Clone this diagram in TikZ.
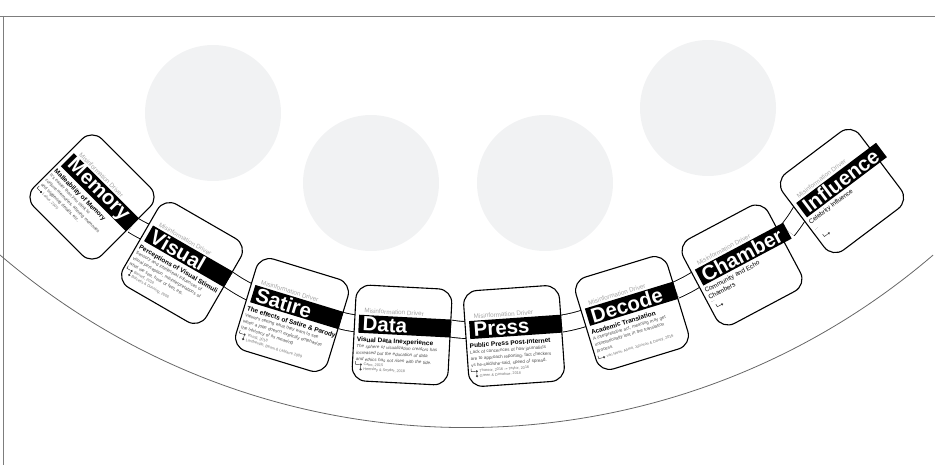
\documentclass[tikz,border=0pt]{standalone}
\usepackage{fontspec}
\setmainfont{Liberation Sans}
\usetikzlibrary{positioning}
\definecolor{blobgray}{RGB}{241,242,243}
\definecolor{framegray}{RGB}{125,125,125}
\pgfdeclarelayer{background}
\pgfsetlayers{background,main}

\begin{document}
\begin{tikzpicture}[x=1pt,y=1pt,
    card/.style={draw,fill=white,rounded corners=14pt,minimum size=96pt,line width=1.1pt},
    bar/.style={fill=black,text=white,font=\bfseries\fontsize{20.5}{20.5}\selectfont,minimum height=18pt,text width=84pt,inner xsep=4pt,inner ysep=0pt,anchor=west},
    driver/.style={text=black!35,font=\fontsize{6.3}{7}\selectfont,anchor=base west,inner sep=0pt},
    subtitle/.style={font=\bfseries\fontsize{6.5}{7.5}\selectfont,anchor=base west,inner sep=0pt},
    subplain/.style={font=\fontsize{6.4}{7.8}\selectfont,align=left,anchor=north west,inner sep=0pt},
    body/.style={text=black!70,font=\fontsize{4.5}{6.5}\selectfont,text width=92pt,align=left,anchor=north west,inner sep=0pt},
    cite/.style={text=black!55,font=\fontsize{3.8}{4.4}\selectfont,anchor=west,inner sep=0pt},
    dot/.style={circle,fill=black!75,inner sep=0pt,minimum size=2.5pt},
    twig/.style={black!75,line width=0.5pt},
    band/.style={double=white,double distance=16pt,line width=0.9pt}]
\useasboundingbox (0,0) rectangle (935,-465);

\begin{scope}[shift={(92,-197)},rotate=-45,transform shape]
  \node[card] (memory) at (0,0) {};
  \node[driver] (memorydriver) at (-39,20) {Misinformation Driver};
  \node[bar] (memorybar) at (-44,9) {Memory};
  \node[subtitle] (memorysub) at (-45,-9) {Malleability of Memory};
  \node[body] (memorybody) at (-45,-11.5) {It's easier than you think to\\conjure memories, altering memories\\and triggering details, etc.};
  \node[cite,below right=1.6pt and 8pt of memorybody.south west] (memorycite1) {Loftus, 2005};
  \node[dot,left=1.2pt of memorycite1] (memorydot1) {};
  \draw[twig] (memorydot1.west) -- ++(-4,0) -- ++(0,3);
\end{scope}

\begin{scope}[shift={(182,-263)},rotate=-30,transform shape]
  \node[card] (visual) at (0,0) {};
  \node[driver] (visualdriver) at (-39,20) {Misinformation Driver};
  \node[bar] (visualbar) at (-44,9) {Visual};
  \node[subtitle] (visualsub) at (-45,-9) {Perceptions of Visual Stimuli};
  \node[body] (visualbody) at (-45,-11.5) {Sensory and intellectual influences of\\visual perception, misinterpretations of\\what we see, hear or feel, etc.};
  \node[cite,below right=1.6pt and 8pt of visualbody.south west] (visualcite1) {Barnett, 2018};
  \node[cite,below right=1pt and 0pt of visualcite1.south west] (visualcite2) {Balcetis \& Dunning, 2006};
  \node[dot,left=1.2pt of visualcite1] (visualdot1) {};
  \node[dot,left=1.2pt of visualcite2] (visualdot2) {};
  \draw[twig] (visualdot1) -- (visualdot2);
  \draw[twig] (visualdot1.west) -- ++(-4,0) -- ++(0,3);
\end{scope}

\begin{scope}[shift={(292,-315)},rotate=-17,transform shape]
  \node[card] (satire) at (0,0) {};
  \node[driver] (satiredriver) at (-39,20) {Misinformation Driver};
  \node[bar] (satirebar) at (-44,9) {Satire};
  \node[subtitle] (satiresub) at (-45,-9) {The effects of Satire \& Parody};
  \node[body] (satirebody) at (-45,-11.5) {Viewers seeing what they want to see\\when a joke doesn't explicitly emphasize\\the intricacy of its meaning};
  \node[cite,below right=1.6pt and 8pt of satirebody.south west] (satirecite1) {Young, 2018};
  \node[cite,below right=1pt and 0pt of satirecite1.south west] (satirecite2) {Landreville, Beam \& LaMarre 2009};
  \node[dot,left=1.2pt of satirecite1] (satiredot1) {};
  \node[dot,left=1.2pt of satirecite2] (satiredot2) {};
  \draw[twig] (satiredot1) -- (satiredot2);
  \draw[twig] (satiredot1.west) -- ++(-4,0) -- ++(0,3);
\end{scope}

\begin{scope}[shift={(402,-335)},rotate=-3,transform shape]
  \node[card] (data) at (0,0) {};
  \node[driver] (datadriver) at (-39,20) {Misinformation Driver};
  \node[bar] (databar) at (-44,9) {Data};
  \node[subtitle] (datasub) at (-45,-9) {Visual Data Inexperience};
  \node[body] (databody) at (-45,-11.5) {\itshape The sphere of visualization creators has\\increased but the education of data\\and ethics has not risen with the tide.};
  \node[cite,below right=1.6pt and 8pt of databody.south west] (datacite1) {Cairo, 2015};
  \node[cite,below right=1pt and 0pt of datacite1.south west] (datacite2) {Hemsley \& Snyder, 2018};
  \node[dot,left=1.2pt of datacite1] (datadot1) {};
  \node[dot,left=1.2pt of datacite2] (datadot2) {};
  \draw[twig] (datadot1) -- (datadot2);
  \draw[twig] (datadot1.west) -- ++(-4,0) -- ++(0,3);
\end{scope}

\begin{scope}[shift={(514,-336)},rotate=4,transform shape]
  \node[card] (press) at (0,0) {};
  \node[driver] (pressdriver) at (-39,20) {Misinformation Driver};
  \node[bar] (pressbar) at (-44,9) {Press};
  \node[subtitle] (presssub) at (-45,-9) {Public Press Post-Internet};
  \node[body] (pressbody) at (-45,-11.5) {Lack of concernces of how journalists\\are to approach reporting, fact checkers\\vs he-said/she-said, speed of spread.};
  \node[cite,below right=1.6pt and 8pt of pressbody.south west] (presscite1) {Tharoor, 2016 –• Taylor, 2016};
  \node[cite,below right=1pt and 0pt of presscite1.south west] (presscite2) {Green \& Donahue, 2018};
  \node[dot,left=1.2pt of presscite1] (pressdot1) {};
  \node[dot,left=1.2pt of presscite2] (pressdot2) {};
  \draw[twig] (pressdot1) -- (pressdot2);
  \draw[twig] (pressdot1.west) -- ++(-4,0) -- ++(0,3);
\end{scope}

\begin{scope}[shift={(632,-313)},rotate=17,transform shape]
  \node[card] (decode) at (0,0) {};
  \node[driver] (decodedriver) at (-39,20) {Misinformation Driver};
  \node[bar] (decodebar) at (-44,9) {Decode};
  \node[subtitle] (decodesub) at (-45,-9) {Academic Translation};
  \node[body] (decodebody) at (-45,-11.5) {A interpretative act, meaning may get\\unintentionally lost in the translation\\process.};
  \node[cite,below right=3pt and 8pt of decodebody.south west] (decodecite1) {van Ness, Alimo, Johnson \& Davey, 2016};
  \node[dot,left=1.2pt of decodecite1] (decodedot1) {};
  \draw[twig] (decodedot1.west) -- ++(-4,0) -- ++(0,3);
\end{scope}

\begin{scope}[shift={(742,-265)},rotate=28,transform shape]
  \node[card] (chamber) at (0,0) {};
  \node[driver] (chamberdriver) at (-39,20) {Misinformation Driver};
  \node[bar,text width=92pt] (chamberbar) at (-44,9) {Chamber};
  \node[subplain] (chambersub) at (-45,-3) {Community and Echo\\Chambers};
  \node[body,below=2pt of chambersub.south west,anchor=north west] (chamberbody) {...};
  \node[dot,below right=5pt and 8pt of chamberbody.south west] (chamberdot1) {};
  \draw[twig] (chamberdot1.west) -- ++(-4,0) -- ++(0,3);
\end{scope}

\begin{scope}[shift={(842,-191)},rotate=37,transform shape]
  \node[card] (influence) at (0,0) {};
  \node[driver] (influencedriver) at (-39,20) {Misinformation Driver};
  \node[bar,text width=92pt] (influencebar) at (-44,9) {Influence};
  \node[subplain] (influencesub) at (-45,-3) {Celebrity Influence};
  \node[body,below=5pt of influencesub.south west,anchor=north west] (influencebody) {...};
  \node[dot,below right=9pt and 8pt of influencebody.south west] (influencedot1) {};
  \draw[twig] (influencedot1.west) -- ++(-4,0) -- ++(0,3);
\end{scope}

\begin{pgfonlayer}{background}
  \draw[framegray,line width=0.8pt] (0,-16) -- (935,-16);
  \draw[framegray,line width=0.8pt] (3,-16) -- (3,-465);
  \draw[black!60,line width=0.8pt] (0,-255) arc[start angle=229.4,end angle=310.6,radius=717];
  \fill[blobgray] (213,-113) circle (68);
  \fill[blobgray] (371,-183) circle (68);
  \fill[blobgray] (545,-183) circle (68);
  \fill[blobgray] (708,-108) circle (68);
  \draw[band] (memorybar.east) to[bend right=4] (visualbar.west);
  \draw[band] (visualbar.east) to[bend right=4] (satirebar.west);
  \draw[band] (satirebar.east) to[bend right=4] (databar.west);
  \draw[band] (databar.east) to[bend right=4] (pressbar.west);
  \draw[band] (pressbar.east) to[bend right=4] (decodebar.west);
  \draw[band] (decodebar.east) to[bend right=4] (chamberbar.west);
  \draw[band] (chamberbar.east) to[bend right=4] (influencebar.west);
\end{pgfonlayer}
\end{tikzpicture}
\end{document}
